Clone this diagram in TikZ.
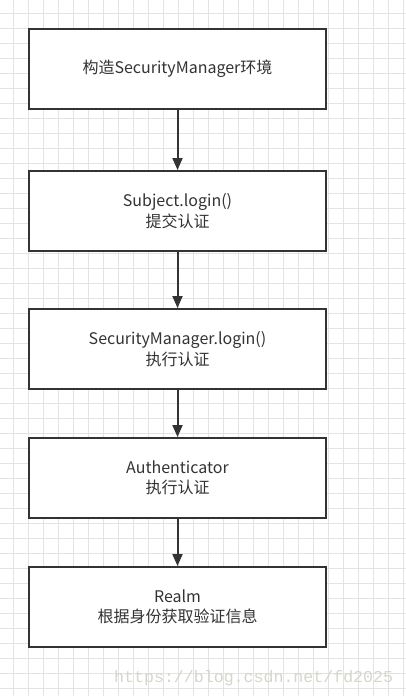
\documentclass[tikz,border=0pt]{standalone}
\usepackage{fontspec}
\setmainfont{Noto Sans CJK SC}
\newfontfamily\markfont{Liberation Mono}
\usetikzlibrary{arrows.meta}
\usetikzlibrary{positioning}
\definecolor{linegray}{HTML}{333333}
\definecolor{gridgray}{HTML}{E3E3E3}
\definecolor{markgray}{HTML}{D6D6CE}
\tikzset{
	stepbox/.style={rectangle, draw=linegray, line width=2pt, fill=white, minimum width=297pt, minimum height=80pt, align=center, text=linegray, font=\fontsize{16}{20.5}\selectfont},
	arrow/.style={draw=linegray, line width=2pt, -{Triangle[length=12pt,width=10pt]}},
	watermark/.style={text=markgray, font=\markfont\fontsize{16.6}{20}\selectfont, inner sep=0pt}
}

\begin{document}
\begin{tikzpicture}[x=1pt,y=1pt]

\useasboundingbox (0,0) rectangle (406,-696);
\fill[white] (0,0) rectangle (406,-696);
\foreach \i in {0,...,26}
	\draw[gridgray, line width=1pt] ({13+15*\i},0) -- ({13+15*\i},-696);
\foreach \j in {0,...,45}
	\draw[gridgray, line width=1pt] (0,{-13-15*\j}) -- (406,{-13-15*\j});

\node[stepbox] (env) at (177.5,-69)
	{构造SecurityManager环境};

\node[stepbox, below=60pt of env] (subject)
	{Subject.login()\\提交认证};

\node[stepbox, below=56pt of subject] (manager)
	{SecurityManager.login()\\执行认证};

\node[stepbox, below=47pt of manager] (auth)
	{Authenticator\\执行认证};

\node[stepbox, below=47pt of auth] (realm)
	{Realm\\根据身份获取验证信息};

\node[watermark, anchor=base west] (mark) at (114,-682)
	{https://blog.csdn.net/fd2025};

\draw [arrow] (env) -- (subject);
\draw [arrow] (subject) -- (manager);
\draw [arrow] (manager) -- (auth);
\draw [arrow] (auth) -- (realm);

\end{tikzpicture}
\end{document}
